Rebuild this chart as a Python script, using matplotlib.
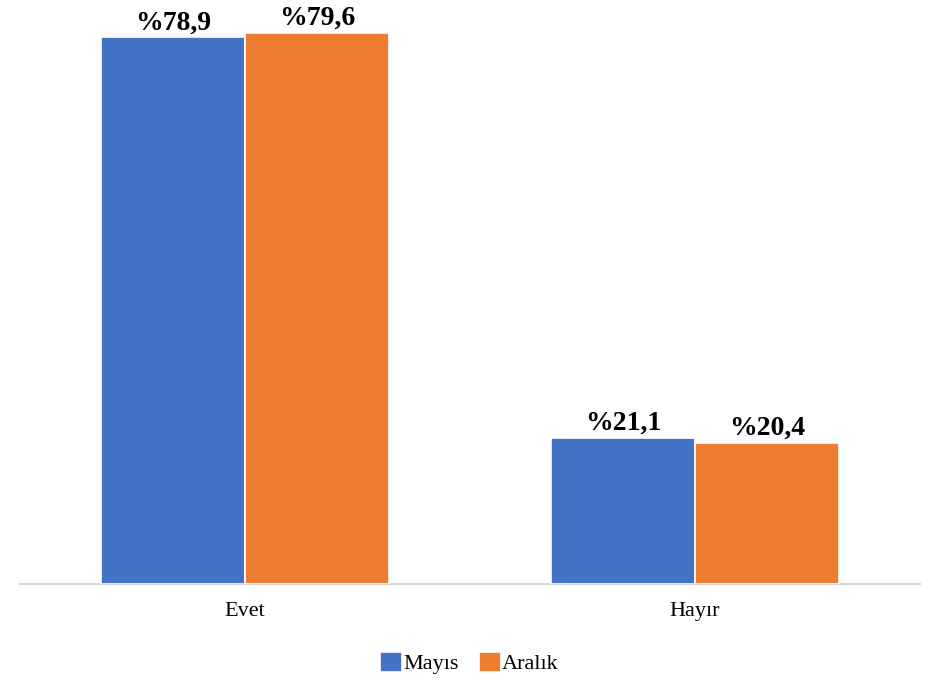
import matplotlib
matplotlib.use("Agg")
import matplotlib.pyplot as plt
import numpy as np

categories = ["Evet", "Hayır"]
series_names = ["Mayıs", "Aralık"]
mayis = [78.9, 21.1]
aralik = [79.6, 20.4]
colors = ["#4472C4", "#ED7D31"]

plt.rcParams['font.family'] = ['Liberation Serif', 'DejaVu Serif']

fig = plt.figure(figsize=(9.39, 6.8), dpi=100)
ax = fig.add_axes([20/939, 1 - 584/680, 900/939, 584/680])

x = np.arange(len(categories))
w = 0.32
b1 = ax.bar(x - w/2, mayis, w, color=colors[0], edgecolor="white", linewidth=1.2, label=series_names[0], zorder=3)
b2 = ax.bar(x + w/2, aralik, w, color=colors[1], edgecolor="white", linewidth=1.2, label=series_names[1], zorder=3)

for bars, vals in ((b1, mayis), (b2, aralik)):
    for r, v in zip(bars, vals):
        ax.annotate("%" + f"{v:.1f}".replace(".", ","),
                    (r.get_x() + r.get_width()/2, r.get_height()),
                    xytext=(0, 1.5), textcoords="offset points",
                    ha="center", va="bottom", fontsize=20, fontweight="bold", color="black")

ax.set_xlim(-0.5, 1.5)
ax.set_ylim(0, 84.3)
ax.set_xticks(x)
ax.set_xticklabels(categories, fontsize=16)
ax.tick_params(axis="x", length=0, pad=13)
ax.set_yticks([])
for s in ["top", "right", "left"]:
    ax.spines[s].set_visible(False)
ax.spines["bottom"].set_color("#D9D9D9")
ax.spines["bottom"].set_linewidth(1.5)

fig.legend(handles=[b1, b2], labels=series_names, loc="center", bbox_to_anchor=(0.5, 1 - 663/680),
           ncol=2, frameon=False, fontsize=16, handlelength=1.0, handleheight=1.0,
           handletextpad=0.05, columnspacing=0.9)

fig.savefig("out.png", dpi=100)
